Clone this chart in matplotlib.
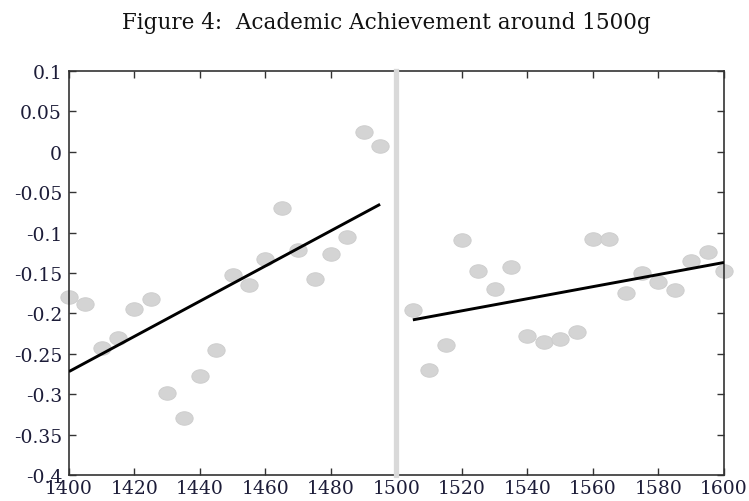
import numpy as np
import matplotlib
matplotlib.use("Agg")
import matplotlib.pyplot as plt
from matplotlib.path import Path

plt.rcParams['font.family'] = ['DejaVu Serif', 'Liberation Serif']
plt.rcParams['axes.unicode_minus'] = False

# Data
left_x = [1400, 1405, 1410, 1415, 1420, 1425, 1430, 1435, 1440, 1445,
          1450, 1455, 1460, 1465, 1470, 1475, 1480, 1485, 1490, 1495]
left_y = [-0.180, -0.188, -0.243, -0.230, -0.194, -0.182, -0.298, -0.330, -0.278, -0.245,
          -0.152, -0.165, -0.133, -0.069, -0.121, -0.157, -0.127, -0.106, 0.025, 0.007]
right_x = [1505, 1510, 1515, 1520, 1525, 1530, 1535, 1540, 1545, 1550,
           1555, 1560, 1565, 1570, 1575, 1580, 1585, 1590, 1595, 1600]
right_y = [-0.196, -0.270, -0.239, -0.109, -0.147, -0.170, -0.142, -0.228, -0.236, -0.232,
           -0.223, -0.108, -0.108, -0.175, -0.150, -0.161, -0.171, -0.135, -0.124, -0.148]
fit_left_x = [1400, 1495]
fit_left_y = [-0.272, -0.065]
fit_right_x = [1505, 1600]
fit_right_y = [-0.208, -0.137]
cutoff = 1500
x_ticks = [1400, 1420, 1440, 1460, 1480, 1500, 1520, 1540, 1560, 1580, 1600]
y_ticks = [0.1, 0.05, 0, -0.05, -0.1, -0.15, -0.2, -0.25, -0.3, -0.35, -0.4]
y_tick_labels = ['0.1', '0.05', '0', '-0.05', '-0.1', '-0.15', '-0.2', '-0.25', '-0.3', '-0.35', '-0.4']
title = "Figure 4:  Academic Achievement around 1500g"

fig = plt.figure(figsize=(7.49, 5.02), dpi=100)
ax = fig.add_axes([0.0921, 0.0518, 0.8745, 0.8048])

# elliptical marker
t = np.linspace(0, 2 * np.pi, 60)
verts = np.column_stack([np.cos(t), 0.78 * np.sin(t)])
ell = Path(verts, closed=True)

ax.axvline(cutoff, color='#d9d9d9', lw=3.8, zorder=5, clip_on=False)
for xs, ys in ((left_x, left_y), (right_x, right_y)):
    ax.plot(xs, ys, linestyle='none', marker=ell, markersize=12.5,
            markerfacecolor='#d4d4d4', markeredgecolor='#cccccc', markeredgewidth=0.6,
            zorder=2, clip_on=False)
ax.plot(fit_left_x, fit_left_y, color='black', lw=2.1, zorder=3, solid_capstyle='butt')
ax.plot(fit_right_x, fit_right_y, color='black', lw=2.1, zorder=3, solid_capstyle='butt')

ax.set_xlim(1400, 1600)
ax.set_ylim(-0.4, 0.1)
ax.set_xticks(x_ticks)
ax.set_xticklabels([str(v) for v in x_ticks])
ax.set_yticks(y_ticks)
ax.set_yticklabels(y_tick_labels)
ax.tick_params(direction='in', top=True, right=True, length=5, width=1.0,
               color='#333333', labelsize=13.5, labelcolor='#1c1c38', pad=5)
ax.tick_params(axis='x', pad=3)
for s in ax.spines.values():
    s.set_color('#333333')
    s.set_linewidth(1.2)

fig.text(0.516, 0.955, title, ha='center', va='center', fontsize=15.5,
         color='#111111', fontweight='normal')

fig.savefig('out.png', dpi=100)
